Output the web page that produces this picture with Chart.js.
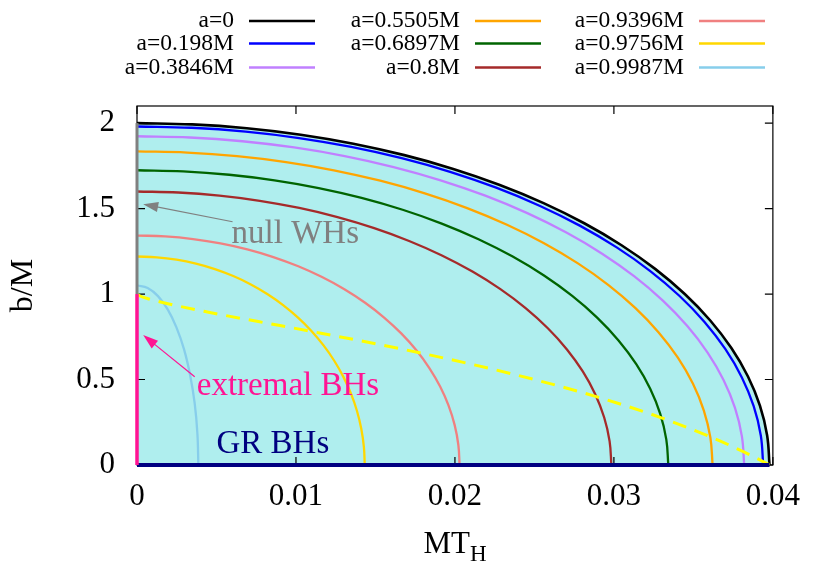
<!DOCTYPE html>
<html>
<head>
<meta charset="utf-8">
<script src="https://cdn.jsdelivr.net/npm/chart.js@4.4.0/dist/chart.umd.min.js"></script>
<style>
    html, body { margin: 0; padding: 0; background: #fff; }
</style>
</head>
<body>
<canvas id="grafico" width="813" height="563"></canvas>
<script>
// curvas a spin fijo: MT_H (x) y b/M (y)
const t_a0     = [0, 0.003468, 0.006909, 0.010298, 0.013609, 0.016816, 0.019895, 0.022822, 0.025576, 0.028135,
                  0.030480, 0.032593, 0.034458, 0.036061, 0.037389, 0.038433, 0.039185, 0.039637, 0.039789];
const b_a0     = [2.0000, 1.9924, 1.9696, 1.9319, 1.8794, 1.8126, 1.7321, 1.6383, 1.5321, 1.4142,
                  1.2856, 1.1472, 1.0000, 0.8452, 0.6840, 0.5176, 0.3473, 0.1743, 0];
const t_a0198  = [0, 0.003433, 0.006840, 0.010195, 0.013473, 0.016647, 0.019696, 0.022594, 0.025320, 0.027854,
                  0.030175, 0.032267, 0.034114, 0.035700, 0.037015, 0.038049, 0.038793, 0.039241, 0.039391];
const b_a0198  = [1.9802, 1.9727, 1.9501, 1.9127, 1.8608, 1.7947, 1.7149, 1.6221, 1.5169, 1.4002,
                  1.2729, 1.1358, 0.9901, 0.8369, 0.6773, 0.5125, 0.3439, 0.1726, 0];
const t_a03846 = [0, 0.003329, 0.006633, 0.009886, 0.013064, 0.016143, 0.019099, 0.021909, 0.024553, 0.027010,
                  0.029260, 0.031289, 0.033080, 0.034618, 0.035893, 0.036896, 0.037617, 0.038051, 0.038197];
const b_a03846 = [1.9231, 1.9158, 1.8939, 1.8576, 1.8071, 1.7429, 1.6655, 1.5753, 1.4732, 1.3598,
                  1.2362, 1.1031, 0.9616, 0.8127, 0.6577, 0.4977, 0.3340, 0.1676, 0];
const t_a05505 = [0, 0.003156, 0.006288, 0.009371, 0.012384, 0.015302, 0.018104, 0.020768, 0.023274, 0.025603,
                  0.027737, 0.029660, 0.031357, 0.032816, 0.034024, 0.034974, 0.035658, 0.036070, 0.036208];
const b_a05505 = [1.8348, 1.8278, 1.8069, 1.7723, 1.7241, 1.6629, 1.5890, 1.5030, 1.4055, 1.2974,
                  1.1794, 1.0524, 0.9174, 0.7754, 0.6275, 0.4749, 0.3186, 0.1599, 0];
const t_a06897 = [0, 0.002913, 0.005804, 0.008650, 0.011431, 0.014125, 0.016711, 0.019170, 0.021483, 0.023633,
                  0.025603, 0.027378, 0.028945, 0.030291, 0.031406, 0.032283, 0.032914, 0.033295, 0.033422];
const b_a06897 = [1.7241, 1.7175, 1.6979, 1.6654, 1.6201, 1.5626, 1.4931, 1.4123, 1.3207, 1.2191,
                  1.1082, 0.9889, 0.8621, 0.7286, 0.5897, 0.4462, 0.2994, 0.1503, 0];
const t_a08    = [0, 0.002601, 0.005182, 0.007724, 0.010207, 0.012612, 0.014921, 0.017117, 0.019182, 0.021102,
                  0.022860, 0.024445, 0.025844, 0.027046, 0.028042, 0.028825, 0.029389, 0.029728, 0.029842];
const b_a08    = [1.6000, 1.5939, 1.5757, 1.5455, 1.5035, 1.4501, 1.3856, 1.3106, 1.2257, 1.1314,
                  1.0285, 0.9177, 0.8000, 0.6762, 0.5472, 0.4141, 0.2778, 0.1395, 0];
const t_a09396 = [0, 0.001769, 0.003524, 0.005252, 0.006940, 0.008576, 0.010146, 0.011639, 0.013044, 0.014349,
                  0.015545, 0.016622, 0.017574, 0.018391, 0.019068, 0.019601, 0.019984, 0.020215, 0.020292];
const b_a09396 = [1.3423, 1.3372, 1.3219, 1.2966, 1.2614, 1.2165, 1.1625, 1.0996, 1.0283, 0.9492,
                  0.8628, 0.7699, 0.6712, 0.5673, 0.4591, 0.3474, 0.2331, 0.1170, 0];
const t_a09756 = [0, 0.001249, 0.002488, 0.003708, 0.004900, 0.006055, 0.007163, 0.008217, 0.009209, 0.010130,
                  0.010974, 0.011735, 0.012407, 0.012984, 0.013462, 0.013838, 0.014108, 0.014272, 0.014326];
const b_a09756 = [1.2195, 1.2149, 1.2010, 1.1780, 1.1460, 1.1052, 1.0561, 0.9990, 0.9342, 0.8623,
                  0.7839, 0.6995, 0.6098, 0.5154, 0.4171, 0.3156, 0.2118, 0.1063, 0];
const t_a09987 = [0, 0.00067, 0.00132, 0.00193, 0.00248, 0.00296, 0.00334, 0.00363, 0.00380, 0.00386];
const b_a09987 = [1.051, 1.035, 0.988, 0.910, 0.805, 0.676, 0.526, 0.360, 0.183, 0];

// linea discontinua amarilla
const t_dash = [0, 0.00016, 0.00080, 0.00167, 0.00443, 0.00763, 0.01101, 0.01769, 0.02376, 0.02889, 0.03299, 0.03606, 0.03817, 0.03939, 0.03979];
const b_dash = [1.000, 0.990, 0.970, 0.949, 0.895, 0.839, 0.781, 0.658, 0.529, 0.400, 0.276, 0.165, 0.077, 0.020, 0];

// bordes: GR BHs, extremal BHs, null WHs
const t_gr = [0, 0.03979];
const b_gr = [0, 0];
const t_ext = [0, 0];
const b_ext = [0, 1];
const t_null = [0, 0];
const b_null = [1, 2];

const spinLabels = ['a=0', 'a=0.198M', 'a=0.3846M', 'a=0.5505M', 'a=0.6897M', 'a=0.8M', 'a=0.9396M', 'a=0.9756M', 'a=0.9987M'];
const xTicks = [0, 0.01, 0.02, 0.03, 0.04];
const xTickLabels = ['0', '0.01', '0.02', '0.03', '0.04'];
const yTicks = [0, 0.5, 1, 1.5, 2];
const yTickLabels = ['0', '0.5', '1', '1.5', '2'];

const curveT = [t_a0, t_a0198, t_a03846, t_a05505, t_a06897, t_a08, t_a09396, t_a09756, t_a09987];
const curveB = [b_a0, b_a0198, b_a03846, b_a05505, b_a06897, b_a08, b_a09396, b_a09756, b_a09987];
const curveColors = ['#000000', '#0000ff', '#c080ff', '#ffa500', '#006400', '#a52a2a', '#f08080', '#ffd700', '#87ceeb'];

const SERIF = '"Liberation Serif", "DejaVu Serif", serif';

function puntos(ts, bs) {
    return ts.map((t, i) => ({ x: t, y: bs[i] }));
}

let datasets = [
    { label: 'null WHs', data: puntos(t_null, b_null), borderColor: '#808080', borderWidth: 3, clip: false },
    { label: 'extremal BHs', data: puntos(t_ext, b_ext), borderColor: '#ff1493', borderWidth: 3.5, clip: false },
    { label: 'GR BHs', data: puntos(t_gr, b_gr), borderColor: '#000080', borderWidth: 4, clip: false },
    { label: 'dash', data: puntos(t_dash, b_dash), borderColor: '#ffff00', borderWidth: 3, borderDash: [14, 9],
      cubicInterpolationMode: 'monotone' }
];
curveT.forEach((ts, i) => {
    datasets.push({
        label: spinLabels[i],
        data: puntos(ts, curveB[i]),
        borderColor: curveColors[i],
        borderWidth: i === 0 ? 2.6 : 2.3,
        tension: 0.4,
        fill: i === 0 ? 'origin' : false,
        backgroundColor: i === 0 ? '#afeeee' : 'transparent'
    });
});

// marco y ticks hacia dentro, estilo gnuplot
const marco = {
    id: 'marco',
    beforeDatasetsDraw(chart) {
        const { ctx, chartArea: a, scales } = chart;
        ctx.save();
        ctx.strokeStyle = '#000';
        ctx.lineWidth = 1.2;
        ctx.strokeRect(a.left, a.top, a.right - a.left, a.bottom - a.top);
        ctx.beginPath();
        xTicks.forEach(v => {
            const px = scales.x.getPixelForValue(v);
            ctx.moveTo(px, a.bottom); ctx.lineTo(px, a.bottom - 8);
            ctx.moveTo(px, a.top); ctx.lineTo(px, a.top + 8);
        });
        yTicks.forEach(v => {
            const py = scales.y.getPixelForValue(v);
            ctx.moveTo(a.left, py); ctx.lineTo(a.left + 8, py);
            ctx.moveTo(a.right, py); ctx.lineTo(a.right - 8, py);
        });
        ctx.stroke();
        ctx.restore();
    }
};

// textos y flechas
const notas = [
    { text: 'null WHs', color: '#808080', at: [0.00595, 1.298], from: [0.00601, 1.423], to: [0.00039, 1.526] },
    { text: 'extremal BHs', color: '#ff1493', at: [0.00376, 0.409], from: [0.00363, 0.516], to: [0.00039, 0.760] },
    { text: 'GR BHs', color: '#000080', at: [0.0050, 0.07] }
];

const anotaciones = {
    id: 'anotaciones',
    afterDatasetsDraw(chart) {
        const { ctx, scales } = chart;
        ctx.save();
        ctx.font = '33px ' + SERIF;
        ctx.textAlign = 'left';
        ctx.textBaseline = 'alphabetic';
        notas.forEach(n => {
            ctx.fillStyle = n.color;
            ctx.strokeStyle = n.color;
            ctx.fillText(n.text, scales.x.getPixelForValue(n.at[0]), scales.y.getPixelForValue(n.at[1]));
            if (n.from) {
                const x1 = scales.x.getPixelForValue(n.from[0]), y1 = scales.y.getPixelForValue(n.from[1]);
                const x2 = scales.x.getPixelForValue(n.to[0]), y2 = scales.y.getPixelForValue(n.to[1]);
                const ang = Math.atan2(y2 - y1, x2 - x1);
                ctx.lineWidth = 1.2;
                ctx.beginPath();
                ctx.moveTo(x1, y1);
                ctx.lineTo(x2 - 10 * Math.cos(ang), y2 - 10 * Math.sin(ang));
                ctx.stroke();
                ctx.beginPath();
                ctx.moveTo(x2, y2);
                ctx.lineTo(x2 - 15 * Math.cos(ang) + 5 * Math.sin(ang), y2 - 15 * Math.sin(ang) - 5 * Math.cos(ang));
                ctx.lineTo(x2 - 15 * Math.cos(ang) - 5 * Math.sin(ang), y2 - 15 * Math.sin(ang) + 5 * Math.cos(ang));
                ctx.closePath();
                ctx.fill();
            }
        });
        ctx.restore();
    }
};

// leyenda en 3 columnas, texto a la derecha y muestra de linea
const leyendaPos = { textRight: [234, 460, 684], lineStart: [249, 475, 699], lineLen: 66, rows: [21, 43.5, 67.5] };

const leyenda = {
    id: 'leyenda',
    afterDraw(chart) {
        const ctx = chart.ctx;
        ctx.save();
        ctx.font = '23.5px ' + SERIF;
        ctx.textAlign = 'right';
        ctx.textBaseline = 'middle';
        spinLabels.forEach((txt, i) => {
            const col = Math.floor(i / 3), row = i % 3;
            const y = leyendaPos.rows[row];
            ctx.fillStyle = '#000';
            ctx.fillText(txt, leyendaPos.textRight[col], y);
            ctx.strokeStyle = curveColors[i];
            ctx.lineWidth = 2.5;
            ctx.beginPath();
            ctx.moveTo(leyendaPos.lineStart[col], y);
            ctx.lineTo(leyendaPos.lineStart[col] + leyendaPos.lineLen, y);
            ctx.stroke();
        });
        ctx.restore();
    }
};

// titulo del eje x con subindice
const tituloX = {
    id: 'tituloX',
    afterDraw(chart) {
        const { ctx, chartArea: a } = chart;
        ctx.save();
        ctx.fillStyle = '#000';
        ctx.textBaseline = 'alphabetic';
        ctx.textAlign = 'left';
        ctx.font = '31px ' + SERIF;
        const w1 = ctx.measureText('MT').width;
        ctx.font = '23px ' + SERIF;
        const w2 = ctx.measureText('H').width;
        const x0 = (a.left + a.right) / 2 - (w1 + w2) / 2;
        ctx.font = '31px ' + SERIF;
        ctx.fillText('MT', x0, 553);
        ctx.font = '23px ' + SERIF;
        ctx.fillText('H', x0 + w1, 561);
        ctx.restore();
    }
};

function iniciar() {
    Chart.defaults.font.family = SERIF;
    Chart.defaults.color = '#000';
    const ctx = document.getElementById('grafico').getContext('2d');

    new Chart(ctx, {
        type: 'line',
        data: { datasets: datasets },
        options: {
            responsive: false,
            animation: false,
            layout: { padding: { top: 106, right: 37, left: 0, bottom: 0 } },
            elements: { point: { radius: 0, hoverRadius: 0 } },
            plugins: {
                legend: { display: false },
                tooltip: { enabled: false },
                filler: { drawTime: 'beforeDatasetsDraw' }
            },
            scales: {
                x: {
                    type: 'linear',
                    min: 0,
                    max: 0.04,
                    grid: { display: false, drawTicks: false },
                    border: { display: false },
                    ticks: {
                        padding: 13,
                        font: { size: 31, family: SERIF },
                        color: '#000',
                        maxRotation: 0,
                        callback: (v, i) => xTickLabels[i]
                    },
                    afterBuildTicks: s => { s.ticks = xTicks.map(v => ({ value: v })); },
                    afterFit: s => { s.height = 98; }
                },
                y: {
                    type: 'linear',
                    min: 0,
                    max: 2.1,
                    grid: { display: false, drawTicks: false },
                    border: { display: false },
                    ticks: {
                        padding: 22,
                        font: { size: 31, family: SERIF },
                        color: '#000',
                        callback: (v, i) => yTickLabels[i]
                    },
                    afterBuildTicks: s => { s.ticks = yTicks.map(v => ({ value: v })); },
                    afterFit: s => { s.width = 137; },
                    title: {
                        display: true,
                        text: 'b/M',
                        color: '#000',
                        font: { size: 32, family: SERIF },
                        padding: { top: 4, bottom: 0 }
                    }
                }
            }
        },
        plugins: [marco, anotaciones, leyenda, tituloX]
    });
}

document.addEventListener('DOMContentLoaded', iniciar);
</script>
</body>
</html>
